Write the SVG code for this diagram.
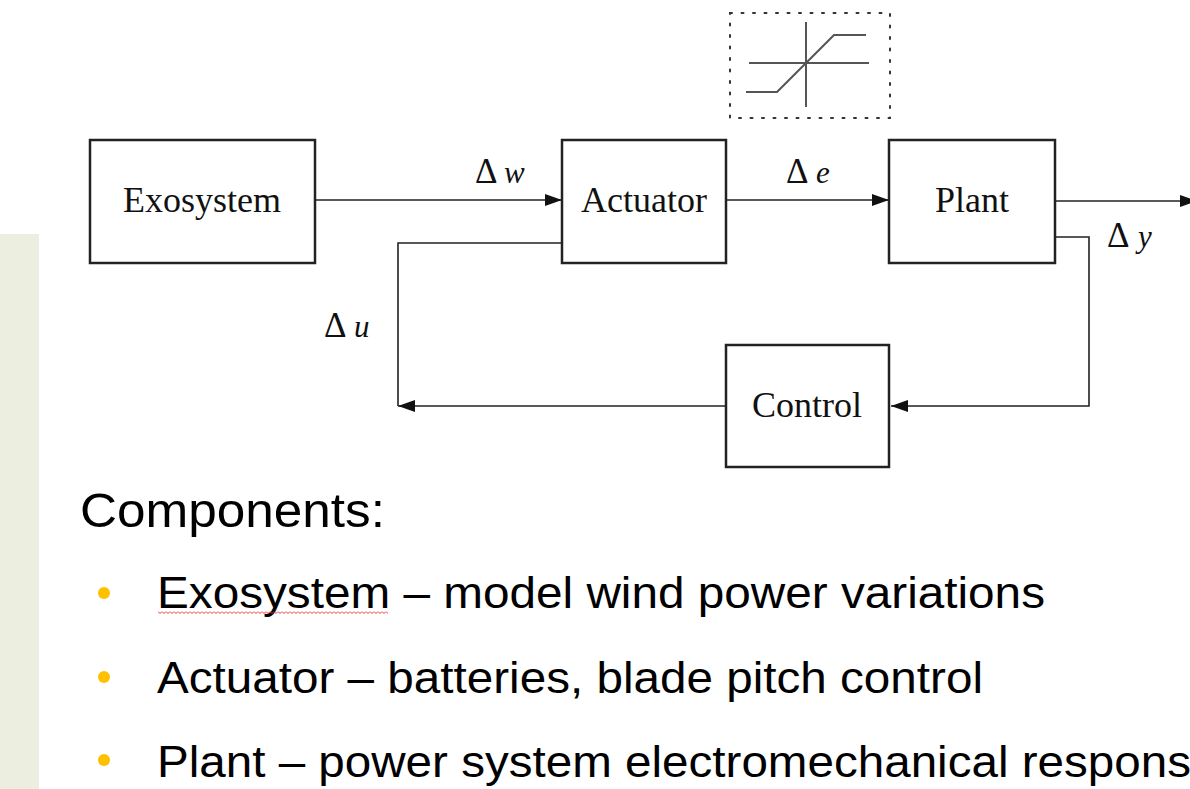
<svg xmlns="http://www.w3.org/2000/svg" width="1190" height="789" viewBox="0 0 1190 789">
<style>
.box{fill:#fff;stroke:#222;stroke-width:2.5}
.lbl{font-family:"Liberation Serif","Times New Roman",serif;font-size:36px;fill:#111;text-anchor:middle}
.sig{font-family:"Liberation Serif","Times New Roman",serif;font-size:35px;fill:#111}
.var{font-family:"Liberation Serif","Times New Roman",serif;font-size:31px;font-style:italic;fill:#111}
.wire{fill:none;stroke:#222;stroke-width:1.6}
.sat{fill:none;stroke:#555;stroke-width:2}
.body{font-family:"Liberation Sans",Arial,sans-serif;fill:#000}
.bullet{fill:#FFC000}
</style>
<defs>
<marker id="arr" markerUnits="userSpaceOnUse" markerWidth="18" markerHeight="14" refX="17" refY="6" orient="auto">
<path d="M0,0 L17,6 L0,12 Z" fill="#111"/>
</marker>
<pattern id="wave" x="158" y="611" width="4" height="4" patternUnits="userSpaceOnUse">
<path d="M0,0.5 L2,2.5 L4,0.5" fill="none" stroke="#e33" stroke-width="1"/>
</pattern>
</defs>
<rect width="1190" height="789" fill="#fff"/>
<rect x="0" y="234" width="39" height="555" fill="#ECEEE0"/>

<g id="saturation">
<rect x="730" y="13" width="160" height="105" fill="none" stroke="#333" stroke-width="2" stroke-dasharray="2 9.5" stroke-linecap="round"/>
<line class="sat" x1="806" y1="22" x2="806" y2="107"/>
<line class="sat" x1="749" y1="63" x2="869" y2="63"/>
<polyline class="sat" points="746,92 777,92 834,35 866,35"/>
</g>

<g id="connectors">
<line class="wire" x1="316" y1="200" x2="562" y2="200" marker-end="url(#arr)"/>
<line class="wire" x1="727" y1="200" x2="889" y2="200" marker-end="url(#arr)"/>
<line class="wire" x1="1055" y1="201" x2="1197" y2="201" marker-end="url(#arr)"/>
<polyline class="wire" points="1055,237 1089,237 1089,406 891,406" marker-end="url(#arr)"/>
<line class="wire" x1="726" y1="406" x2="398" y2="406" marker-end="url(#arr)"/>
<polyline class="wire" points="398,406 398,243 562,243"/>
</g>

<g id="exosystem">
<rect class="box" x="90" y="140" width="225" height="123"/>
<text class="lbl" x="202" y="212">Exosystem</text>
</g>
<g id="actuator">
<rect class="box" x="562" y="140" width="164" height="123"/>
<text class="lbl" x="644" y="212">Actuator</text>
</g>
<g id="plant">
<rect class="box" x="889" y="140" width="166" height="123"/>
<text class="lbl" x="972" y="212">Plant</text>
</g>
<g id="control">
<rect class="box" x="726" y="345" width="163" height="122"/>
<text class="lbl" x="807" y="417">Control</text>
</g>

<g id="signal-labels">
<text class="sig" x="475" y="183">Δ</text><text class="var" x="504" y="183">w</text>
<text class="sig" x="786" y="183">Δ</text><text class="var" x="816" y="183">e</text>
<text class="sig" x="1107" y="247">Δ</text><text class="var" x="1138" y="247">y</text>
<text class="sig" x="324" y="337">Δ</text><text class="var" x="354" y="337">u</text>
</g>

<g id="components-text">
<text class="body" x="80" y="527" font-size="48" textLength="305" lengthAdjust="spacingAndGlyphs">Components:</text>
<circle class="bullet" cx="104" cy="593" r="6"/>
<circle class="bullet" cx="104" cy="677" r="6"/>
<circle class="bullet" cx="104" cy="760" r="6"/>
<text class="body" x="157" y="608" font-size="44" textLength="888" lengthAdjust="spacingAndGlyphs">Exosystem – model wind power variations</text>
<rect x="158" y="611" width="230" height="3" fill="url(#wave)"/>
<text class="body" x="157" y="693" font-size="44" textLength="826" lengthAdjust="spacingAndGlyphs">Actuator – batteries, blade pitch control</text>
<text class="body" x="157" y="777" font-size="44" textLength="1034" lengthAdjust="spacingAndGlyphs">Plant – power system electromechanical respons</text>
</g>
</svg>
